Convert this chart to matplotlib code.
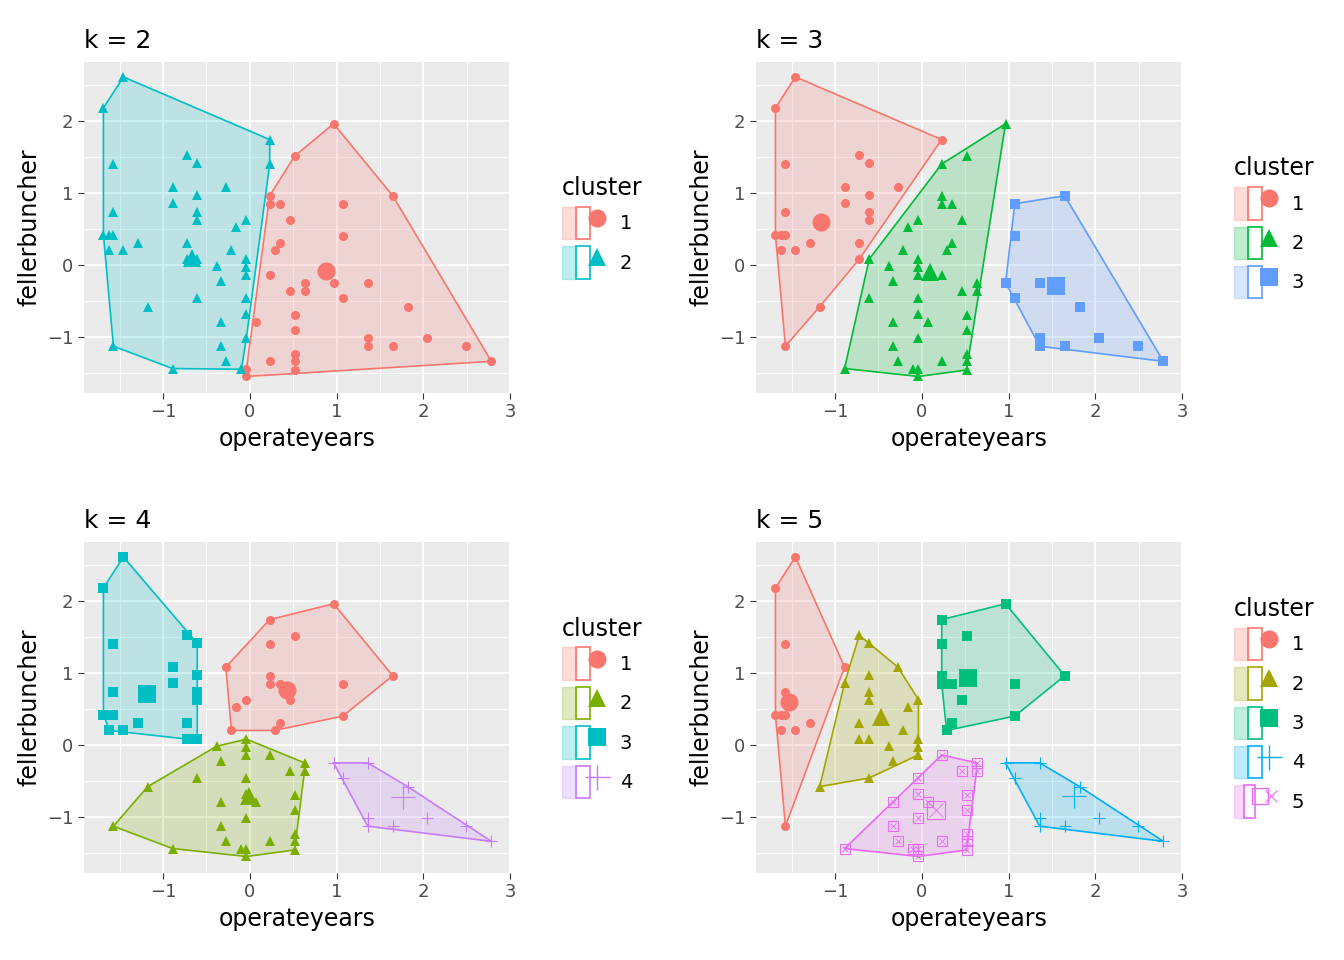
import matplotlib.pyplot as plt
import numpy as np
from matplotlib.lines import Line2D
from matplotlib.patches import Patch
from matplotlib.legend_handler import HandlerTuple

# operateyears / fellerbuncher values
operateyears = [
    -1.456, -1.686, -1.571, -1.571, -1.686, -1.617, -1.571, -1.617, -1.456, -1.291,
    -1.571, -1.176, -0.889, -0.720, -0.605, -0.889, -0.889, -0.605, -0.605, -0.605,
    -0.276, -0.720, -0.720, -0.605, -0.161, -0.038, -0.211, -0.383, -0.326, -0.038,
    -0.038, -0.038, -0.605, -0.038, -0.038, 0.077, -0.326, -0.038, -0.326, -0.276,
    -0.096, -0.038, -0.038,
    0.230, 0.966, 0.517, 0.230, 1.648, 0.230, 0.230, 0.345, 1.073, 0.460,
    1.073, 0.345, 0.287, 0.230, 0.966, 0.632, 0.460, 0.632, 1.360, 1.073,
    1.820, 0.517, 0.517, 1.360, 1.360, 1.648, 2.040, 2.490, 2.785, 0.230,
    0.517, 0.517, 0.517,
]
fellerbuncher = [
    2.61, 2.18, 1.40, 0.74, 0.42, 0.42, 0.42, 0.20, 0.20, 0.30,
    -1.13, -0.58, -1.44, 1.52, 1.41, 1.08, 0.86, 0.97, 0.74, 0.63,
    1.08, 0.31, 0.08, 0.08, 0.53, 0.63, 0.20, -0.02, -0.23, 0.08,
    -0.03, -0.14, -0.46, -0.46, -0.68, -0.80, -0.80, -1.01, -1.12, -1.34,
    -1.45, -1.45, -1.55,
    1.74, 1.96, 1.51, 1.40, 0.96, 0.96, 0.85, 0.85, 0.85, 0.63,
    0.40, 0.31, 0.20, -0.14, -0.25, -0.25, -0.36, -0.36, -0.25, -0.46,
    -0.58, -0.69, -0.91, -1.02, -1.13, -1.13, -1.02, -1.13, -1.34, -1.34,
    -1.24, -1.34, -1.46,
]

# cluster centres (big markers) per k
centers = {
    2: [(0.881, -0.08), (-0.67, 0.09)],
    3: [(-1.16, 0.60), (0.10, -0.10), (1.55, -0.29)],
    4: [(0.43, 0.76), (-0.01, -0.71), (-1.18, 0.71), (1.77, -0.72)],
    5: [(-1.53, 0.60), (-0.47, 0.39), (0.53, 0.93), (1.76, -0.71), (0.16, -0.90)],
}
palettes = {
    2: ['#F8766D', '#00BFC4'],
    3: ['#F8766D', '#00BA38', '#619CFF'],
    4: ['#F8766D', '#7CAE00', '#00BFC4', '#C77CFF'],
    5: ['#F8766D', '#A3A500', '#00BF7D', '#00B0F6', '#E76BF3'],
}
markers = ['o', '^', 's', '+', 'boxx']


def hull(pts):
    pts = sorted(set(map(tuple, pts)))
    if len(pts) < 3:
        return pts

    def cross(o, a, b):
        return (a[0] - o[0]) * (b[1] - o[1]) - (a[1] - o[1]) * (b[0] - o[0])
    lower, upper = [], []
    for p in pts:
        while len(lower) >= 2 and cross(lower[-2], lower[-1], p) <= 0:
            lower.pop()
        lower.append(p)
    for p in reversed(pts):
        while len(upper) >= 2 and cross(upper[-2], upper[-1], p) <= 0:
            upper.pop()
        upper.append(p)
    return lower[:-1] + upper[:-1]


def draw_marker(ax, x, y, m, c, ms):
    if m == 'boxx':
        ax.plot(x, y, ls='none', marker='s', mfc='none', mec=c, ms=ms, mew=0.8)
        ax.plot(x, y, ls='none', marker='x', color=c, ms=ms * 0.75, mew=0.6)
    elif m == '+':
        ax.plot(x, y, ls='none', marker='+', color=c, ms=ms * 1.3, mew=0.8)
    else:
        ax.plot(x, y, ls='none', marker=m, color=c, ms=ms, mew=0)


x = np.array(operateyears)
y = np.array(fellerbuncher)

fig = plt.figure(figsize=(13.44, 9.6), dpi=100)
positions = {2: (0.0625, 0.5906), 3: (0.5625, 0.5906), 4: (0.0625, 0.0906), 5: (0.5625, 0.0906)}

for k in [2, 3, 4, 5]:
    left, bottom = positions[k]
    ax = fig.add_axes([left, bottom, 0.317, 0.345])
    ax.set_facecolor('#EBEBEB')
    cen = np.array(centers[k])
    d = (x[:, None] - cen[None, :, 0]) ** 2 + (y[:, None] - cen[None, :, 1]) ** 2
    lab = d.argmin(axis=1)
    handles = []
    for i in range(k):
        c = palettes[k][i]
        px, py = x[lab == i], y[lab == i]
        h = np.array(hull(np.column_stack([px, py])))
        ax.fill(h[:, 0], h[:, 1], facecolor=c, alpha=0.2, zorder=2)
        hc = np.vstack([h, h[:1]])
        ax.plot(hc[:, 0], hc[:, 1], color=c, lw=1.2, zorder=3)
        draw_marker(ax, px, py, markers[i], c, 6.5)
        draw_marker(ax, [cen[i, 0]], [cen[i, 1]], markers[i], c, 13)
        patch = Patch(facecolor=c, alpha=0.25, edgecolor=c)
        if markers[i] == 'boxx':
            mk = (Line2D([], [], ls='none', marker='s', mfc='none', mec=c, ms=12, mew=1),
                  Line2D([], [], ls='none', marker='x', color=c, ms=9, mew=0.8))
        elif markers[i] == '+':
            mk = (Line2D([], [], ls='none', marker='+', color=c, ms=18, mew=1),)
        else:
            mk = (Line2D([], [], ls='none', marker=markers[i], color=c, ms=13, mew=0),)
        handles.append((Patch(facecolor=c, edgecolor=c, alpha=0.25),
                        Patch(facecolor='none', edgecolor=c, lw=1.2)) + mk)
    ax.set_xlim(-1.91, 2.99)
    ax.set_ylim(-1.78, 2.82)
    ax.set_xticks([-1, 0, 1, 2, 3])
    ax.set_yticks([-1, 0, 1, 2])
    ax.set_xticks(np.arange(-1.5, 3, 1), minor=True)
    ax.set_yticks(np.arange(-1.5, 3, 1), minor=True)
    ax.grid(which='major', color='white', lw=1.3)
    ax.grid(which='minor', color='white', lw=0.6)
    ax.set_axisbelow(True)
    for s in ax.spines.values():
        s.set_visible(False)
    ax.tick_params(which='major', labelsize=13, labelcolor='#4D4D4D', color='#333333', length=4)
    ax.tick_params(which='minor', length=0)
    ax.set_xlabel('operateyears', fontsize=17)
    ax.set_ylabel('fellerbuncher', fontsize=17)
    ax.set_title(f'k = {k}', loc='left', fontsize=18, pad=10)
    leg = ax.legend(handles, [str(i + 1) for i in range(k)], title='cluster',
                    handler_map={tuple: HandlerTuple(ndivide=None, pad=0)},
                    loc='center left', bbox_to_anchor=(1.08, 0.5), frameon=False,
                    fontsize=14, title_fontsize=17, handlelength=2.2, handleheight=2.2,
                    labelspacing=0.35, handletextpad=0.8)
    leg._legend_box.align = 'left'

fig.savefig('out.png', dpi=100)
